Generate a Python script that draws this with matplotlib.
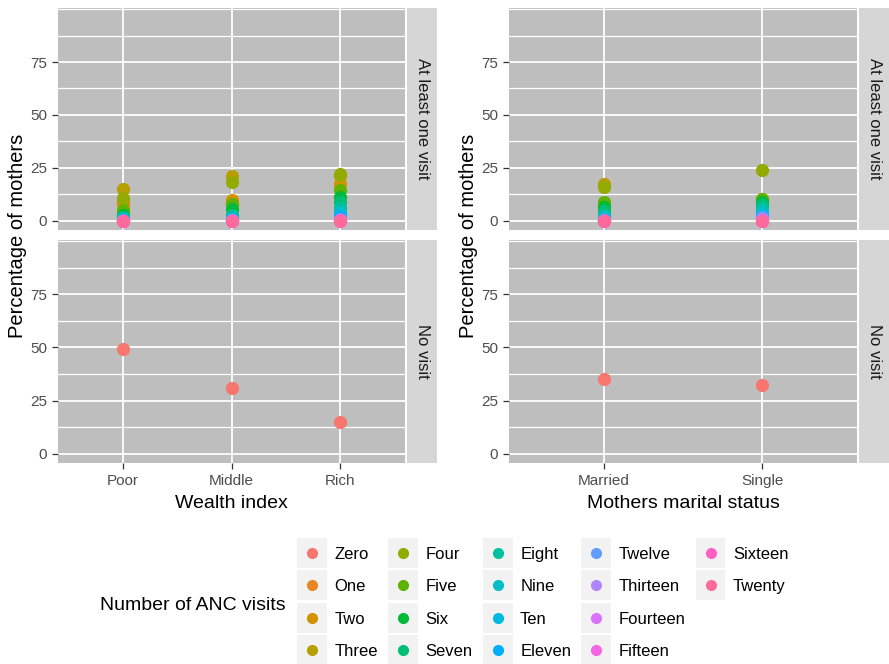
import matplotlib
matplotlib.use("Agg")
import matplotlib.pyplot as plt
from matplotlib.lines import Line2D
from matplotlib.patches import Rectangle
from matplotlib.legend_handler import HandlerBase
from matplotlib.ticker import MultipleLocator

plt.rcParams['font.family'] = ['Liberation Sans', 'DejaVu Sans']

# ANC visit levels and ggplot hue colours (18 levels)
visits = ["Zero", "One", "Two", "Three", "Four", "Five", "Six", "Seven", "Eight",
          "Nine", "Ten", "Eleven", "Twelve", "Thirteen", "Fourteen", "Fifteen",
          "Sixteen", "Twenty"]
colors = ["#F8766D", "#E88526", "#D39200", "#B79F00", "#93AA00", "#5EB300",
          "#00BA38", "#00BF74", "#00C19F", "#00BFC4", "#00B9E3", "#00ADFA",
          "#619CFF", "#AE87FF", "#DB72FB", "#F564E3", "#FF61C3", "#FF699C"]

wealth = ["Poor", "Middle", "Rich"]
marital = ["Married", "Single"]

# percentage of mothers with at least one visit, per visit count (One..Twenty)
wealth_visit = {
    "Poor":   [8, 9, 15, 11, 5, 3, 2, 1.5, 1, 0.5, 0.3, 0.2, 0.1, 0, 0, 0, 0],
    "Middle": [8.5, 10, 21, 18.5, 8, 5.5, 3, 2.5, 1.5, 1, 0.5, 0.3, 0.2, 0.1, 0, 0, 0],
    "Rich":   [9, 17.5, 21, 22, 14.5, 11.5, 9, 6, 4, 3, 1.5, 1, 0.5, 0.3, 0.2, 0, 0],
}
marital_visit = {
    "Married": [4, 6.5, 17.5, 16, 9, 6.5, 4.5, 3, 2, 1, 0.5, 0.3, 0.2, 0.1, 0, 0, 0],
    "Single":  [7.5, 10, 10.5, 24, 10.5, 9, 7.5, 6, 4, 3, 2, 2, 1, 0.5, 0, 0, 0],
}
# percentage with no visit (Zero)
wealth_none = [49.5, 31, 15]
marital_none = [35, 32.5]

PANEL = "#BEBEBE"
STRIP = "#D6D6D6"

fig = plt.figure(figsize=(8.89, 6.64), dpi=100)
W, H = 889, 664


def px_axes(x0, y0, x1, y1):
    return fig.add_axes([x0 / W, 1 - y1 / H, (x1 - x0) / W, (y1 - y0) / H])


def style(ax, cats, show_x):
    ax.set_facecolor(PANEL)
    ax.set_xlim(0.4, len(cats) + 0.6)
    ax.set_ylim(-4.3, 100.5)
    ax.yaxis.set_minor_locator(MultipleLocator(12.5))
    ax.set_yticks([0, 25, 50, 75])
    ax.set_xticks(range(1, len(cats) + 1))
    ax.grid(True, which='major', color='white', lw=1.3)
    ax.grid(True, which='minor', axis='y', color='white', lw=0.9)
    ax.set_axisbelow(True)
    for s in ax.spines.values():
        s.set_visible(False)
    ax.tick_params(which='minor', length=0)
    ax.tick_params(which='major', length=4, color='#333333', labelsize=11,
                   labelcolor='#4D4D4D', width=0.9, pad=4)
    if show_x:
        ax.set_xticklabels(cats)
    else:
        ax.set_xticklabels([])
        ax.tick_params(axis='x', length=0)


def strip(x0, y0, x1, y1, label):
    sa = px_axes(x0, y0, x1, y1)
    sa.set_facecolor(STRIP)
    sa.set_xticks([])
    sa.set_yticks([])
    for s in sa.spines.values():
        s.set_visible(False)
    sa.text(0.5, 0.5, label, rotation=-90, ha='center', va='center',
            fontsize=12, color='#1A1A1A', transform=sa.transAxes)


def facet(x0, x1, sx1, cats, visit_data, none_vals, xlabel):
    top = px_axes(x0, 8, x1, 230)
    bot = px_axes(x0, 240, x1, 463)
    for ax, show_x in ((top, False), (bot, True)):
        style(ax, cats, show_x)
    for j, lvl in enumerate(visits[1:]):
        xs = [i + 1 for i in range(len(cats))]
        ys = [visit_data[c][j] for c in cats]
        top.scatter(xs, ys, s=90, color=colors[j + 1], zorder=3, linewidths=0)
    bot.scatter(range(1, len(cats) + 1), none_vals, s=90, color=colors[0],
                zorder=3, linewidths=0)
    strip(x1 + 2, 8, sx1, 230, "At least one visit")
    strip(x1 + 2, 240, sx1, 463, "No visit")
    bot.set_xlabel(xlabel, fontsize=14, labelpad=5)
    fig.text((x0 - 40) / W, 1 - 236 / H, "Percentage of mothers", rotation=90,
             ha='center', va='center', fontsize=14.5)


facet(58, 405, 437, wealth, wealth_visit, wealth_none, "Wealth index")
facet(509, 857, 889, marital, marital_visit, marital_none, "Mothers marital status")


class KeyHandler(HandlerBase):
    # grey ggplot-style key square with the point centred in it
    def create_artists(self, legend, orig_handle, xdescent, ydescent,
                       width, height, fontsize, trans):
        if orig_handle.get_marker() in ('', 'None', None):
            # empty slot: nothing visible
            return [Rectangle((0, 0), 0, 0, visible=False, transform=trans)]
        cx = width / 2 - xdescent
        cy = height / 2 - ydescent
        side = 21.5
        box = Rectangle((cx - side / 2, cy - side / 2), side, side,
                        facecolor='#F2F2F2', edgecolor='none', transform=trans)
        dot = Line2D([cx], [cy], marker='o', ls='', markersize=7,
                     color=orig_handle.get_color(), transform=trans)
        return [box, dot]


handles = [Line2D([], [], marker='o', ls='', color=c) for c in colors]
labels = list(visits)
# two empty slots so columns fill 4,4,4,4,2 like the original
for _ in range(2):
    handles.append(Line2D([], [], ls='', marker=''))
    labels.append("")
fig.legend(handles, labels, loc='center left',
           bbox_to_anchor=(297 / W, 1 - 603 / H), ncol=5, frameon=False,
           handler_map={Line2D: KeyHandler()},
           handlelength=1.8, handleheight=0.7, labelspacing=1.05,
           handletextpad=0.45, columnspacing=0.6, fontsize=12,
           borderpad=0, borderaxespad=0)
fig.text(100 / W, 1 - 605 / H, "Number of ANC visits", ha='left', va='center',
         fontsize=14)

fig.savefig("out.png", dpi=100)
